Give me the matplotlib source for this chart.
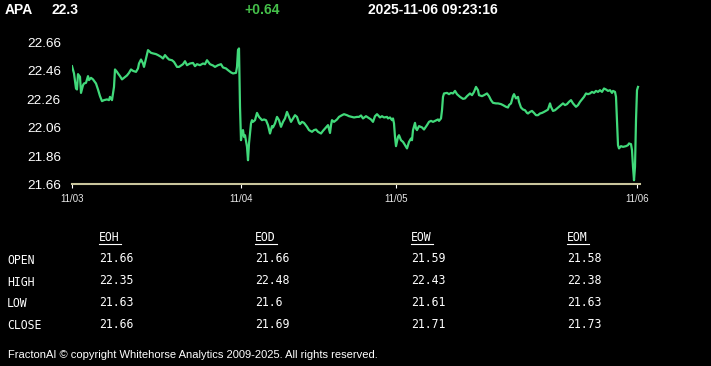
import matplotlib
matplotlib.use("Agg")
import matplotlib.pyplot as plt
from matplotlib.lines import Line2D
import numpy as np

# intraday APA prices, x = bar index
bar = [0, 2, 4, 5, 6, 8, 9, 11, 12, 14, 16, 17, 19, 21, 24, 26, 28, 30, 32, 35,
       37, 38, 40, 42, 43, 45, 46, 48, 50, 52, 55, 57, 59, 61, 64, 66, 67, 69, 71, 72,
       74, 76, 79, 81, 84, 86, 89, 91, 93, 95, 97, 100, 102, 105, 107, 111, 113, 115, 118, 121,
       123, 125, 128, 131, 133, 135, 138, 141, 143, 146, 149, 151, 154, 156, 159, 161, 164, 165, 166, 167,
       168, 169, 170, 171, 172, 173, 175, 176, 177, 179, 180, 181, 183, 185, 187, 190, 192, 194, 196, 198,
       200, 201, 203, 205, 207, 209, 211, 213, 215, 217, 219, 221, 223, 225, 227, 228, 230, 232, 235, 237,
       240, 242, 244, 246, 249, 251, 254, 256, 258, 259, 260, 262, 265, 267, 270, 272, 275, 277, 280, 282,
       285, 287, 289, 291, 294, 296, 299, 301, 303, 305, 306, 308, 310, 312, 315, 316, 318, 320, 321, 322,
       323, 324, 326, 327, 329, 331, 332, 334, 335, 337, 339, 340, 341, 343, 344, 345, 347, 350, 352, 355,
       357, 359, 361, 363, 366, 367, 369, 370, 371, 372, 375, 377, 379, 381, 383, 385, 388, 391, 393, 395,
       398, 400, 402, 404, 406, 407, 410, 412, 415, 417, 419, 421, 424, 426, 429, 431, 434, 436, 437, 439,
       441, 442, 444, 446, 447, 449, 451, 453, 455, 456, 458, 460, 462, 464, 466, 468, 470, 472, 475, 476,
       478, 479, 481, 483, 485, 487, 489, 491, 493, 495, 497, 499, 501, 504, 506, 508, 510, 512, 514, 516,
       518, 520, 522, 524, 526, 528, 530, 532, 534, 536, 538, 540, 541, 543, 544, 545, 546, 547, 549, 551,
       554, 556, 557, 559, 560, 561, 562, 563, 564, 565, 566]
price = [22.493, 22.442, 22.336, 22.329, 22.437, 22.418, 22.305, 22.359, 22.371, 22.376,
         22.423, 22.395, 22.411, 22.400, 22.371, 22.329, 22.282, 22.247, 22.254, 22.259,
         22.254, 22.277, 22.254, 22.347, 22.470, 22.453, 22.442, 22.423, 22.400, 22.411,
         22.428, 22.446, 22.470, 22.460, 22.453, 22.477, 22.512, 22.540, 22.512, 22.488,
         22.547, 22.606, 22.587, 22.583, 22.578, 22.571, 22.559, 22.547, 22.571, 22.554,
         22.540, 22.535, 22.523, 22.488, 22.488, 22.507, 22.528, 22.500, 22.512, 22.516,
         22.493, 22.507, 22.500, 22.512, 22.507, 22.535, 22.507, 22.498, 22.488, 22.500,
         22.507, 22.484, 22.477, 22.465, 22.449, 22.442, 22.446, 22.488, 22.606, 22.618,
         22.207, 21.972, 22.031, 22.043, 21.995, 22.007, 21.925, 21.831, 21.949, 22.090,
         22.113, 22.101, 22.113, 22.164, 22.136, 22.113, 22.118, 22.113, 22.078, 22.019,
         22.071, 22.062, 22.090, 22.136, 22.113, 22.066, 22.101, 22.125, 22.171, 22.136,
         22.101, 22.125, 22.148, 22.136, 22.094, 22.085, 22.101, 22.094, 22.066, 22.043,
         22.031, 22.043, 22.047, 22.031, 22.019, 22.038, 22.062, 22.078, 22.023, 22.078,
         22.113, 22.101, 22.118, 22.136, 22.148, 22.155, 22.148, 22.141, 22.136, 22.132,
         22.136, 22.136, 22.146, 22.125, 22.141, 22.132, 22.118, 22.101, 22.141, 22.155,
         22.148, 22.132, 22.141, 22.132, 22.136, 22.125, 22.132, 22.113, 22.125, 22.090,
         21.995, 21.930, 21.995, 22.007, 21.972, 21.960, 21.949, 21.925, 21.914, 21.960,
         21.984, 21.972, 22.043, 22.094, 22.054, 22.043, 22.071, 22.062, 22.047, 22.078,
         22.101, 22.108, 22.101, 22.108, 22.118, 22.108, 22.125, 22.183, 22.277, 22.301,
         22.305, 22.296, 22.305, 22.301, 22.319, 22.296, 22.277, 22.263, 22.266, 22.282,
         22.301, 22.289, 22.312, 22.347, 22.324, 22.289, 22.282, 22.289, 22.301, 22.282,
         22.254, 22.235, 22.231, 22.231, 22.226, 22.219, 22.207, 22.202, 22.219, 22.231,
         22.282, 22.296, 22.266, 22.277, 22.242, 22.202, 22.188, 22.183, 22.164, 22.160,
         22.171, 22.178, 22.164, 22.148, 22.148, 22.160, 22.164, 22.171, 22.183, 22.188,
         22.231, 22.207, 22.178, 22.183, 22.195, 22.207, 22.219, 22.231, 22.219, 22.226,
         22.242, 22.254, 22.231, 22.207, 22.219, 22.242, 22.259, 22.277, 22.301, 22.296,
         22.301, 22.312, 22.305, 22.319, 22.312, 22.324, 22.312, 22.336, 22.329, 22.319,
         22.324, 22.305, 22.319, 22.312, 22.277, 22.113, 21.937, 21.914, 21.930, 21.925,
         21.930, 21.937, 21.949, 21.944, 21.902, 21.784, 21.690, 21.784, 22.113, 22.324,
         22.347]

day_ticks = [0, 169, 324, 565]
day_labels = ['11/03', '11/04', '11/05', '11/06']
y_ticks = [21.66, 21.86, 22.06, 22.26, 22.46, 22.66]

symbol = 'APA'
last = '22.3'
change = '+0.64'
stamp = '2025-11-06 09:23:16'

col_heads = ['EOH', 'EOD', 'EOW', 'EOM']
row_heads = ['OPEN', 'HIGH', 'LOW', 'CLOSE']
table = [['21.66', '21.66', '21.59', '21.58'],
         ['22.35', '22.48', '22.43', '22.38'],
         ['21.63', '21.6', '21.61', '21.63'],
         ['21.66', '21.69', '21.71', '21.73']]
footer = 'FractonAI \u00a9 copyright Whitehorse Analytics 2009-2025. All rights reserved.'

W, H = 711, 366
fig = plt.figure(figsize=(W / 100, H / 100), dpi=100, facecolor='black')

ax = fig.add_axes([72 / W, 1 - 184.5 / H, 568 / W, 148 / H])
ax.set_facecolor('black')
ax.plot(bar, price, color='#41d97a', lw=1.6, solid_joinstyle='round')
ax.set_xlim(0, 568)
ax.set_ylim(21.66, 22.702)

ax.set_yticks(y_ticks)
ax.set_yticklabels(['%.2f' % v for v in y_ticks])
ax.tick_params(axis='y', length=0, pad=8, labelsize=9.7, labelcolor='white')
ax.set_xticks(day_ticks)
ax.set_xticklabels(day_labels)
ax.tick_params(axis='x', length=3, width=0.8, color='white', pad=3.5,
               labelsize=7, labelcolor='#e8e8e8')
for s in ['top', 'right', 'left']:
    ax.spines[s].set_visible(False)
ax.spines['bottom'].set_color('#c9c59c')
ax.spines['bottom'].set_linewidth(1.5)
for lab in ax.get_yticklabels() + ax.get_xticklabels():
    lab.set_family(['Liberation Sans', 'DejaVu Sans'])

# header line
hdr = dict(fontsize=10, fontweight='bold', family=['Liberation Sans', 'DejaVu Sans'],
           va='center', ha='left')
fig.text(5 / W, 1 - 10 / H, symbol, color='white', **hdr)
fig.text(51 / W, 1 - 10 / H, last, color='white', **hdr)
fig.text(244 / W, 1 - 10 / H, change, color='#45c04a', **hdr)
fig.text(368 / W, 1 - 10 / H, stamp, color='white', **hdr)

# summary table
col_x = [99, 255, 411, 567]
row_y = [259, 281, 302.5, 324.5]
mono = dict(fontsize=8.3, family='DejaVu Sans Mono', color='white', va='center', ha='left')
for cx, name in zip(col_x, col_heads):
    fig.text(cx / W, 1 - 238 / H, name, **mono)
    fig.add_artist(Line2D([cx / W, (cx + 22) / W], [1 - 243.5 / H] * 2,
                          color='white', lw=0.8, transform=fig.transFigure))
for ry, name in zip(row_y, row_heads):
    fig.text(7 / W, 1 - (ry + 1) / H, name, **mono)
for ry, row in zip(row_y, table):
    for cx, v in zip(col_x, row):
        fig.text(cx / W, 1 - ry / H, v, **mono)

fig.text(8 / W, 1 - 355 / H, footer, fontsize=8, color='white',
         family=['Liberation Sans', 'DejaVu Sans'], va='center', ha='left')

fig.savefig('out.png', dpi=100, facecolor='black')
